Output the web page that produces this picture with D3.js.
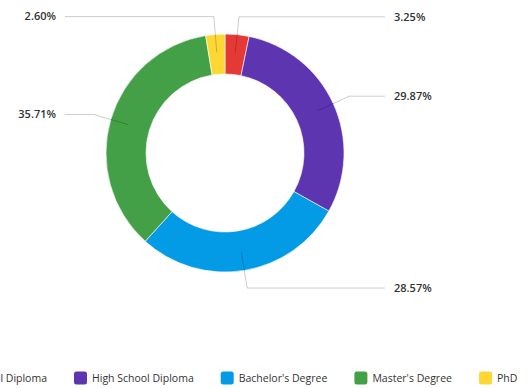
<!DOCTYPE html>
<html>
<head>
<meta charset="utf-8">
<script src="https://cdn.jsdelivr.net/npm/d3@7"></script>
<style>
  html, body { margin: 0; padding: 0; background: #fff; overflow: hidden; }
  svg { display: block; }
</style>
</head>
<body>
<svg id="chart" width="531" height="388"></svg>
<script>
// Education level distribution (percent of respondents)
const categories = ["Less than High School Diploma", "High School Diploma", "Bachelor's Degree", "Master's Degree", "PhD"];
const shares = [3.25, 29.87, 28.57, 35.71, 2.60];
const sliceColors = ["#E53935", "#5E35B1", "#039BE5", "#43A047", "#FDD835"];

const width = 531, height = 388;
const cx = 225, cy = 153;
const outerR = 119, innerR = 79;

const svg = d3.select("#chart");
const fmt = d => d.toFixed(2) + "%";

const color = d3.scaleOrdinal().domain(categories).range(sliceColors);

const pie = d3.pie().sort(null).value(d => d.value);
const rows = categories.map((c, i) => ({ name: c, value: shares[i] }));
const arcs = pie(rows);

const arc = d3.arc().innerRadius(innerR).outerRadius(outerR);

const g = svg.append("g").attr("transform", `translate(${cx},${cy})`);

g.selectAll("path.slice")
  .data(arcs)
  .join("path")
  .attr("class", "slice")
  .attr("d", arc)
  .attr("fill", d => color(d.data.name))
  .attr("stroke", "#fff")
  .attr("stroke-width", 0.6);

// Leader lines: start inside the ring, bend out, then run horizontally to a label column
const innerPoint = d3.arc().innerRadius(101).outerRadius(101);
const bendPoint = d3.arc().innerRadius(outerR * 1.15).outerRadius(outerR * 1.15);
const colOffset = 160, labelGap = 9;

arcs.forEach(d => {
  const mid = (d.startAngle + d.endAngle) / 2;
  const right = mid < Math.PI;
  const p1 = innerPoint.centroid(d);
  const p2 = bendPoint.centroid(d);
  const p3 = [right ? colOffset : -colOffset, p2[1]];

  g.append("polyline")
    .attr("points", [p1, p2, p3].map(p => p.join(",")).join(" "))
    .attr("fill", "none")
    .attr("stroke", "#000")
    .attr("stroke-opacity", 0.2)
    .attr("stroke-width", 1);

  g.append("text")
    .attr("x", p3[0] + (right ? labelGap : -labelGap))
    .attr("y", p3[1])
    .attr("dy", "0.35em")
    .attr("text-anchor", right ? "start" : "end")
    .attr("font-family", "'Open Sans', sans-serif")
    .attr("font-weight", 600)
    .attr("font-size", 11)
    .attr("fill", "#333")
    .text(fmt(d.data.value));
});

// Legend row along the bottom (it overflows the left edge, scrolled to the second entry)
const legendY = 378;
const legend = svg.append("g").attr("class", "legend");
const items = legend.selectAll("g.item")
  .data(categories)
  .join("g")
  .attr("class", "item");

items.append("rect")
  .attr("width", 13).attr("height", 13)
  .attr("rx", 2.5)
  .attr("y", legendY - 6.5)
  .attr("fill", d => color(d));

items.append("text")
  .attr("x", 18)
  .attr("y", legendY)
  .attr("dy", "0.35em")
  .attr("font-family", "'Open Sans', sans-serif")
  .attr("font-size", 10.5)
  .attr("fill", "#333")
  .text(d => d);

// Lay items out left to right, anchored so the second entry starts at x=74
const itemGap = 27;
const widths = [];
items.each(function () { widths.push(this.getBBox().width); });
const xs = [];
xs[1] = 74;
xs[0] = xs[1] - itemGap - widths[0];
for (let i = 2; i < widths.length; i++) xs[i] = xs[i - 1] + widths[i - 1] + itemGap;
items.attr("transform", (d, i) => `translate(${xs[i]},0)`);
</script>
</body>
</html>
